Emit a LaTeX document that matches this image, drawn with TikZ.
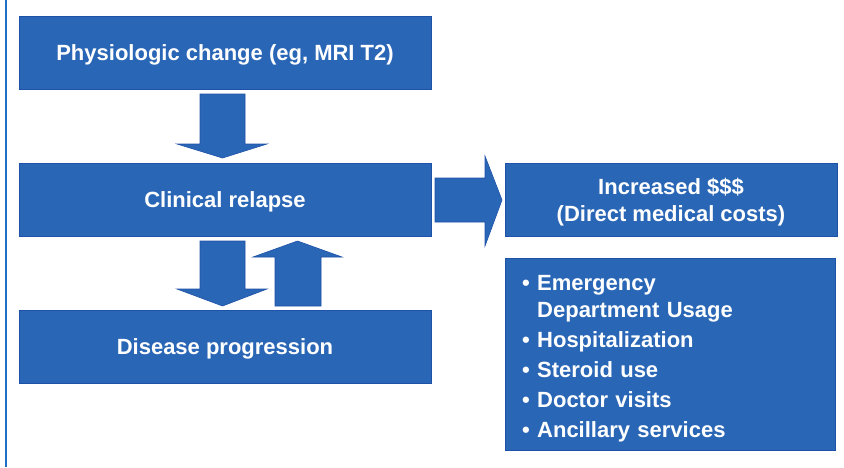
\documentclass[tikz,border=0pt]{standalone}
\usepackage{fontspec}
\setmainfont{Liberation Sans}
\definecolor{boxblue}{RGB}{42,102,182}
\definecolor{edgeblue}{RGB}{30,82,168}
\definecolor{lineblue}{RGB}{31,111,197}
\tikzset{
	label/.style={text=white,font=\fontsize{22}{27}\selectfont\bfseries,inner sep=0pt},
	block/.style={label,draw=edgeblue,fill=boxblue,minimum width=412pt,minimum height=73pt,
		align=center,text depth=0pt,line width=0.6pt},
	blockarrow/.style={draw=edgeblue,fill=boxblue,line width=0.6pt,line join=miter}
}
\begin{document}
\begin{tikzpicture}[x=1pt,y=-1pt]
	\useasboundingbox (0,0) rectangle (844,467);
	% side rule
		\draw[lineblue,line width=1.6pt] (6,0) -- (6,467);
	% left column
		\node[block] (physio) at (225,52.5) {Physiologic change (eg, MRI T2)};
		\node[block] (relapse) at (225,199.5) {Clinical relapse};
		\node[block] (progress) at (225,346.5) {Disease progression};
	% right column
		\node[block,minimum width=332pt] (costs) at (671,199.5) {Increased \$\$\$\\(Direct medical costs)};
		\node[block,minimum width=330pt,minimum height=192pt] (items) at (670,354) {};
		\node[label,anchor=base west,text width=296pt,align=left] (itemtext) at (522,290)
			{\makebox[15pt][l]{•}Emergency\\
			\hspace*{15pt}Department Usage\\[3pt]
			\makebox[15pt][l]{•}Hospitalization\\[3pt]
			\makebox[15pt][l]{•}Steroid use\\[3pt]
			\makebox[15pt][l]{•}Doctor visits\\[3pt]
			\makebox[15pt][l]{•}Ancillary services};
	% down arrow between first two boxes
		\draw[blockarrow] (200,94) -- (245,94) -- (245,144) -- (267,144) -- (222.5,158) -- (177,144) -- (200,144) -- cycle;
	% down and up arrows between relapse and progression
		\draw[blockarrow] (200,241) -- (245,241) -- (245,289) -- (267,289) -- (222.5,306) -- (177,289) -- (200,289) -- cycle;
		\draw[blockarrow] (275,306) -- (321,306) -- (321,257) -- (342,257) -- (297.5,241) -- (253,257) -- (275,257) -- cycle;
	% arrow to costs
		\draw[blockarrow] (435,178) -- (485,178) -- (485,156) -- (502,200) -- (485,246) -- (485,222) -- (435,222) -- cycle;
\end{tikzpicture}
\end{document}
